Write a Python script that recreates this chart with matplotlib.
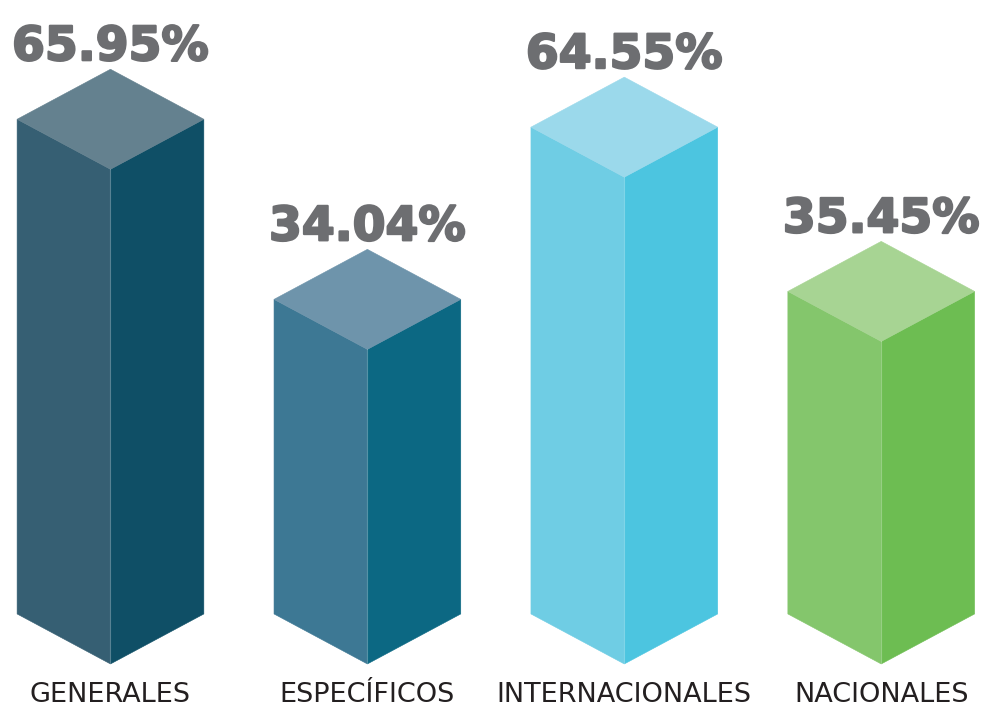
import matplotlib
matplotlib.use("Agg")
import matplotlib.pyplot as plt
from matplotlib.patches import Polygon
import matplotlib.patheffects as pe

# ---- data ----
categories = ["GENERALES", "ESPECÍFICOS", "INTERNACIONALES", "NACIONALES"]
values = [65.95, 34.04, 64.55, 35.45]
value_labels = ["65.95%", "34.04%", "64.55%", "35.45%"]

# ---- style ----
top_colors = ["#64818f", "#6e94ab", "#9bd9eb", "#a7d493"]
left_colors = ["#365f73", "#3d7894", "#6fcde4", "#84c66c"]
right_colors = ["#0f4f66", "#0c6883", "#4cc5e0", "#6dbd52"]
value_color = "#6d6e71"
label_color = "#231f20"

floor = -21.7        # value-axis level of the bars' base
half_w = 0.3634      # half width of a bar in category units
depth = 8.86         # isometric depth in value units

fig = plt.figure(figsize=(9.84, 7.09), dpi=100)
ax = fig.add_axes([0, 0, 1, 1])
ax.set_xlim(-0.43, 3.40)
ax.set_ylim(-38.54, 87.08)
ax.axis("off")

for i, (cat, v, lab) in enumerate(zip(categories, values, value_labels)):
    xl, xc, xr = i - half_w, i, i + half_w
    left = [(xl, floor), (xc, floor - depth), (xc, v - depth), (xl, v)]
    right = [(xc, floor - depth), (xr, floor), (xr, v), (xc, v - depth)]
    top = [(xl, v), (xc, v + depth), (xr, v), (xc, v - depth)]
    for pts, col in ((left, left_colors[i]), (right, right_colors[i]), (top, top_colors[i])):
        ax.add_patch(Polygon(pts, closed=True, facecolor=col, edgecolor=col,
                             linewidth=0.4, joinstyle="miter"))
    # subtle highlight on the front edge
    ax.plot([xc, xc], [floor - depth, v - depth], color="white", alpha=0.25, lw=0.8)
    ax.text(i, v + depth + 1.6, lab, ha="center", va="baseline",
            fontsize=34, fontweight="bold", color=value_color,
            family="DejaVu Sans",
            path_effects=[pe.withStroke(linewidth=1.6, foreground=value_color)])
    ax.text(i, -37.25, cat, ha="center", va="baseline", fontsize=19.5,
            color=label_color, family="DejaVu Sans")

fig.savefig("out.png", dpi=100, facecolor="white")
